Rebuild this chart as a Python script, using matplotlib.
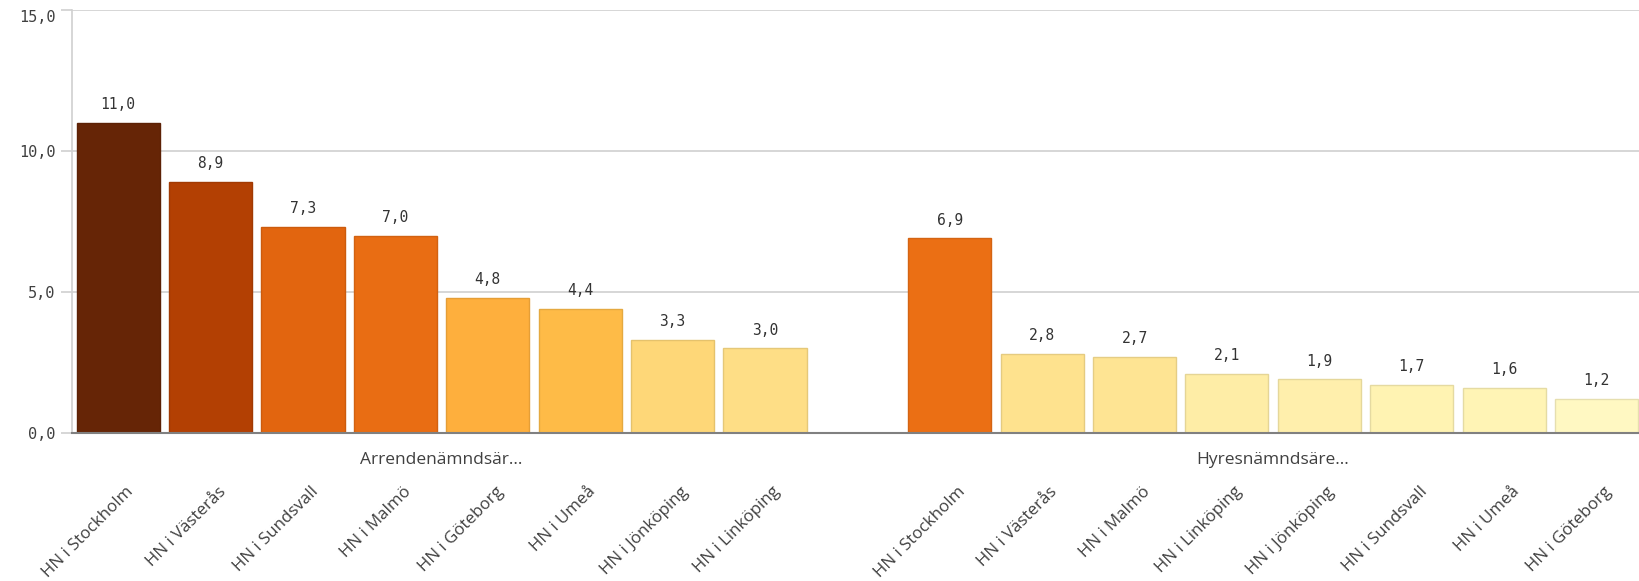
import numpy as np
import matplotlib.pyplot as plt
from matplotlib import colors

# data
arr_labels = ['HN i Stockholm', 'HN i Västerås', 'HN i Sundsvall', 'HN i Malmö',
              'HN i Göteborg', 'HN i Umeå', 'HN i Jönköping', 'HN i Linköping']
arr_values = [11.0, 8.9, 7.3, 7.0, 4.8, 4.4, 3.3, 3.0]
hyr_labels = ['HN i Stockholm', 'HN i Västerås', 'HN i Malmö', 'HN i Linköping',
              'HN i Jönköping', 'HN i Sundsvall', 'HN i Umeå', 'HN i Göteborg']
hyr_values = [6.9, 2.8, 2.7, 2.1, 1.9, 1.7, 1.6, 1.2]
groups = ['Arrendenämndsär...', 'Hyresnämndsäre...']

x_arr = np.arange(len(arr_values))
x_hyr = np.arange(len(hyr_values)) + len(arr_values) + 1

cmap = plt.get_cmap('YlOrBr')
norm = colors.Normalize(vmin=0.0, vmax=11.0)

fig = plt.figure(figsize=(16.39, 5.81), dpi=100)
ax = fig.add_axes([0.0439, 0.2547, 0.9561, 0.728])

num_font = 'DejaVu Sans Mono'
lab_font = 'Open Sans'

for xs, vals in [(x_arr, arr_values), (x_hyr, hyr_values)]:
    fc = [cmap(norm(v)) for v in vals]
    ec = [tuple(c * 0.9 for c in cmap(norm(v))[:3]) for v in vals]
    bars = ax.bar(xs, vals, width=0.9, color=fc, edgecolor=ec, linewidth=1.0, zorder=3)
    for b, v in zip(bars, vals):
        ax.text(b.get_x() + b.get_width() / 2, v + 0.38, f'{v:.1f}'.replace('.', ','),
                ha='center', va='bottom', fontsize=10.5, family=num_font, color='#333333')

ax.set_xlim(-0.5, x_hyr[-1] + 0.46)
ax.set_ylim(0, 15)
ax.set_yticks([0, 5, 10, 15])
ax.set_yticklabels(['0,0', '5,0', '10,0', '15,0'], family=num_font, fontsize=11, color='#404040')
ax.get_yticklabels()[-1].set_va('top')
ax.yaxis.grid(True, color='#d0d0d0', linewidth=1.2, zorder=0)
ax.tick_params(axis='y', length=8, color='#d0d0d0', width=1.2, pad=4)
ax.tick_params(axis='x', length=0)

for s in ['top', 'right']:
    ax.spines[s].set_visible(False)
ax.spines['left'].set_color('#d0d0d0')
ax.spines['left'].set_linewidth(1.2)
ax.spines['bottom'].set_color('#808080')
ax.spines['bottom'].set_linewidth(1.5)
ax.spines['bottom'].set_zorder(4)

ax.set_xticks(list(x_arr) + list(x_hyr))
ax.set_xticklabels([])
all_labels = arr_labels + hyr_labels
for xp, lab in zip(list(x_arr) + list(x_hyr), all_labels):
    ax.text(xp + 0.08, -1.8, lab, rotation=45, ha='right', va='top', rotation_mode='anchor',
            fontsize=12.2, family=lab_font, color='#404040')

ax.text(x_arr.mean(), -0.95, groups[0], ha='center', va='center', fontsize=12.5,
        family=lab_font, color='#404040')
ax.text(x_hyr.mean(), -0.95, groups[1], ha='center', va='center', fontsize=12.5,
        family=lab_font, color='#404040')

fig.savefig('out.png', dpi=100)
